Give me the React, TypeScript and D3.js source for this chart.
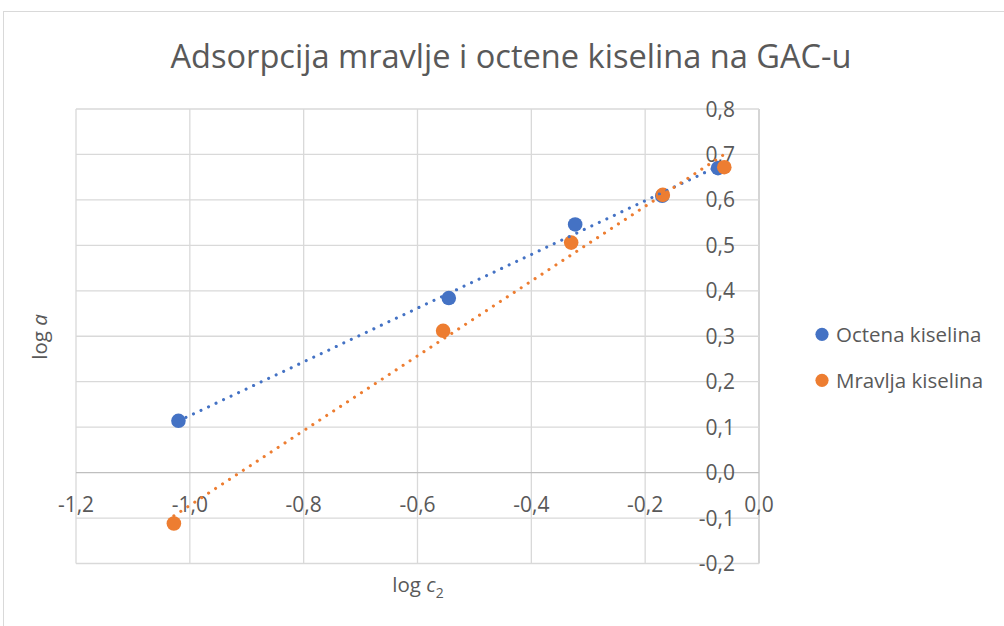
import { useEffect } from 'react'
import * as d3 from 'd3'

// log c2 / log a values
const octenaX = [-1.02, -0.545, -0.323, -0.17, -0.072]
const octenaY = [0.114, 0.384, 0.546, 0.609, 0.67]
const mravljaX = [-1.028, -0.555, -0.33, -0.169, -0.061]
const mravljaY = [-0.112, 0.312, 0.506, 0.611, 0.672]

const seriesNames = ['Octena kiselina', 'Mravlja kiselina']
const seriesColors = ['#4472C4', '#ED7D31']

const xTicks = [-1.2, -1.0, -0.8, -0.6, -0.4, -0.2, 0.0]
const yTicks = [-0.2, -0.1, 0.0, 0.1, 0.2, 0.3, 0.4, 0.5, 0.6, 0.7, 0.8]

const title = 'Adsorpcija mravlje i octene kiselina na GAC-u'

const width = 1004
const height = 626
const font = '"Open Sans", sans-serif'
const textColor = '#595959'

const locale = d3.formatLocale({ decimal: ',', thousands: '.', grouping: [3], currency: ['', ''], minus: '-' })
const fmt = locale.format('.1f')

// least squares line, Excel style linear trendline
function fit(xs: number[], ys: number[]) {
  const mx = d3.mean(xs)!
  const my = d3.mean(ys)!
  let num = 0
  let den = 0
  xs.forEach((x, i) => {
    num += (x - mx) * (ys[i] - my)
    den += (x - mx) * (x - mx)
  })
  const slope = num / den
  return { slope, intercept: my - slope * mx }
}

export default function App() {
  useEffect(() => {
    document.body.style.margin = '0'
  }, [])

  const x = d3.scaleLinear().domain([-1.2, 0]).range([76, 759])
  const y = d3.scaleLinear().domain([-0.2, 0.8]).range([563.5, 109])

  const series = [
    { name: seriesNames[0], color: seriesColors[0], xs: octenaX, ys: octenaY },
    { name: seriesNames[1], color: seriesColors[1], xs: mravljaX, ys: mravljaY },
  ]

  const line = d3.line<[number, number]>().x(d => x(d[0])).y(d => y(d[1]))

  return (
    <svg width={width} height={height} style={{ display: 'block', fontFamily: font }}>
      <rect x={0} y={0} width={width} height={height} fill="#fff" />
      <rect x={3.5} y={11.5} width={1020} height={640} fill="#fff" stroke="#d9d9d9" strokeWidth={1} />

      <text x={511} y={68} textAnchor="middle" fontSize={32.6} fill={textColor}>{title}</text>

      {/* grid */}
      {xTicks.map(t => (
        <line key={'gx' + t} x1={x(t)} x2={x(t)} y1={y(0.8)} y2={y(-0.2)}
          stroke={t === 0 ? '#bfbfbf' : '#d9d9d9'} strokeWidth={1.3} />
      ))}
      {yTicks.map(t => (
        <line key={'gy' + t} x1={x(-1.2)} x2={x(0)} y1={y(t)} y2={y(t)}
          stroke={t === 0 ? '#bfbfbf' : '#d9d9d9'} strokeWidth={1.3} />
      ))}

      {/* tick labels */}
      {yTicks.map(t => (
        <text key={'ly' + t} x={735} y={y(t) + 7.5} textAnchor="end" fontSize={21} fill={textColor}>{fmt(t)}</text>
      ))}
      {xTicks.map(t => (
        <text key={'lx' + t} x={x(t)} y={y(0) + 39.5} textAnchor="middle" fontSize={21} fill={textColor}>{fmt(t)}</text>
      ))}

      {/* axis titles */}
      <text x={418} y={592} textAnchor="middle" fontSize={20.5} fill={textColor}>
        log <tspan fontStyle="italic">c</tspan><tspan fontSize={14} dy={6}>2</tspan>
      </text>
      <text transform={`translate(47,337) rotate(-90)`} textAnchor="middle" fontSize={20.5} fill={textColor}>
        log <tspan fontStyle="italic">a</tspan>
      </text>

      {/* markers */}
      {series.map(s => (
        <g key={'m' + s.name}>
          {s.xs.map((v, i) => (
            <circle key={i} cx={x(v)} cy={y(s.ys[i])} r={7.3} fill={s.color} />
          ))}
        </g>
      ))}

      {/* trendlines */}
      {series.map(s => {
        const f = fit(s.xs, s.ys)
        const x0 = d3.min(s.xs)!
        const x1 = d3.max(s.xs)!
        return (
          <path key={'t' + s.name}
            d={line([[x0, f.slope * x0 + f.intercept], [x1, f.slope * x1 + f.intercept]]) || ''}
            fill="none" stroke={s.color} strokeWidth={3.1} strokeLinecap="round" strokeDasharray="0.01 8.3" />
        )
      })}

      {/* legend */}
      {series.map((s, i) => (
        <g key={'lg' + s.name} transform={`translate(822,${334.3 + i * 46})`}>
          <circle r={6.6} fill={s.color} />
          <text x={14} y={7.4} fontSize={20.5} fill={textColor}>{s.name}</text>
        </g>
      ))}
    </svg>
  )
}
